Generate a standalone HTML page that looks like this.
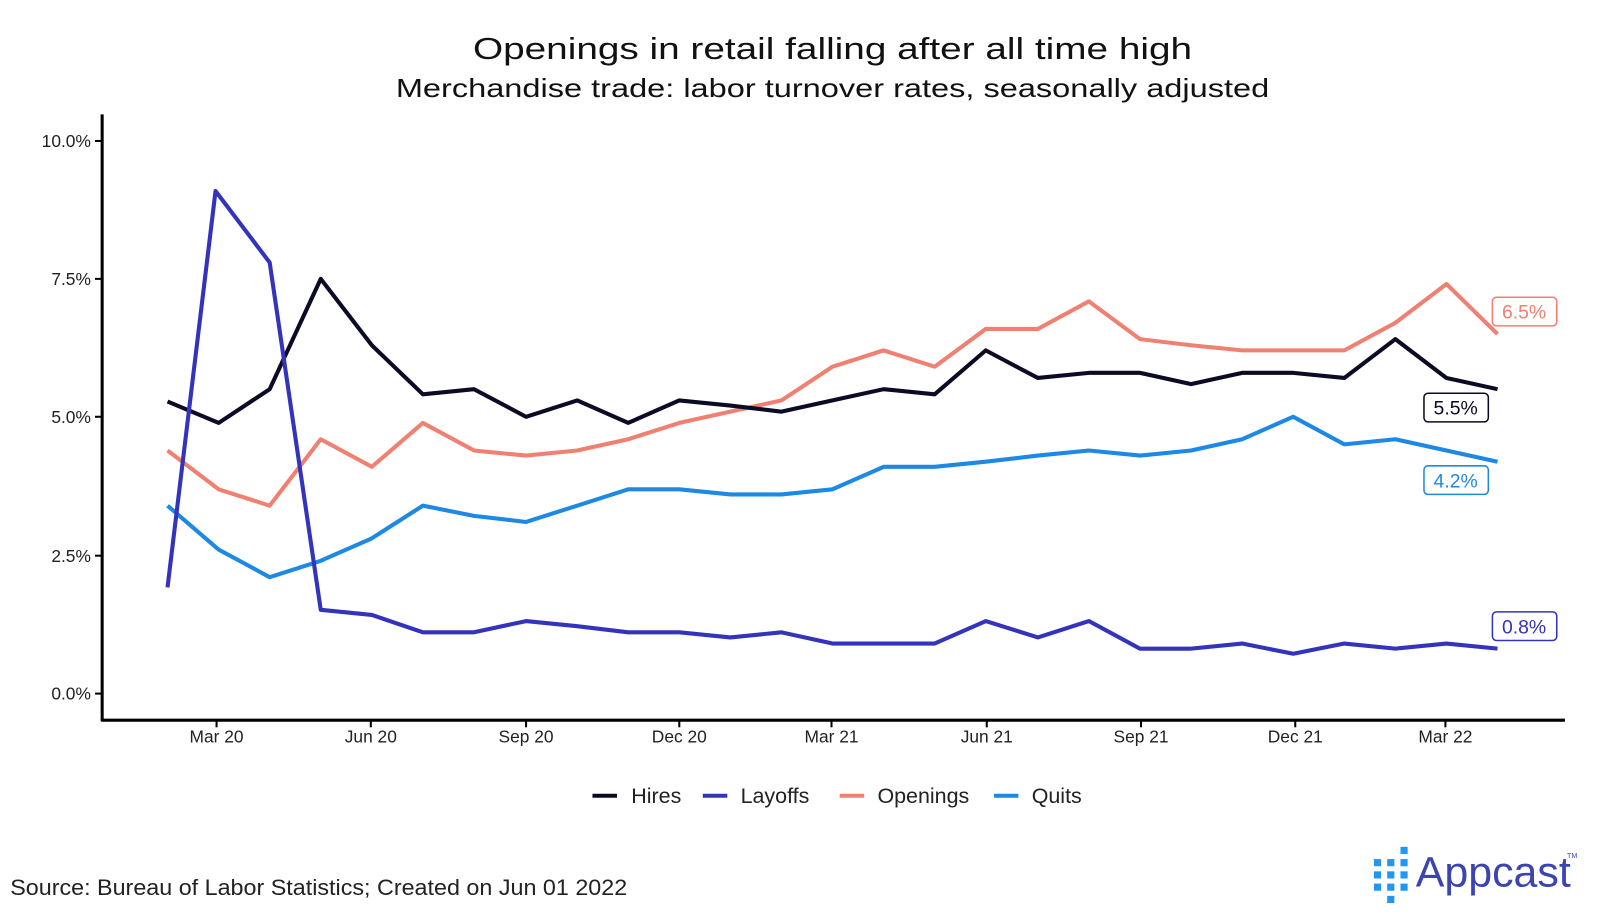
<!DOCTYPE html>
<html><head><meta charset="utf-8"><style>body{margin:0;background:#fff;overflow:hidden}</style></head><body>
<svg width="1600" height="909" viewBox="0 0 1600 909" xmlns="http://www.w3.org/2000/svg" font-family="Liberation Sans, sans-serif">
<rect width="1600" height="909" fill="#fff"/>
<g transform="scale(1.0215)">
<text x="815" y="58" font-size="30" text-anchor="middle" fill="#111" textLength="704" lengthAdjust="spacingAndGlyphs">Openings in retail falling after all time high</text>
<text x="815" y="95" font-size="25" text-anchor="middle" fill="#111" textLength="855" lengthAdjust="spacingAndGlyphs">Merchandise trade: labor turnover rates, seasonally adjusted</text>
<g stroke="#000" stroke-width="3" fill="none">
<line x1="100" y1="112" x2="100" y2="706"/><line x1="99" y1="705" x2="1532" y2="705"/>
</g>
<g stroke="#000" stroke-width="2">
<line x1="93" y1="138" x2="100" y2="138"/><line x1="93" y1="273" x2="100" y2="273"/><line x1="93" y1="408" x2="100" y2="408"/><line x1="93" y1="544" x2="100" y2="544"/><line x1="93" y1="679" x2="100" y2="679"/>
<line x1="212" y1="705" x2="212" y2="712"/><line x1="363" y1="705" x2="363" y2="712"/><line x1="515" y1="705" x2="515" y2="712"/><line x1="665" y1="705" x2="665" y2="712"/><line x1="814" y1="705" x2="814" y2="712"/><line x1="966" y1="705" x2="966" y2="712"/><line x1="1117" y1="705" x2="1117" y2="712"/><line x1="1268" y1="705" x2="1268" y2="712"/><line x1="1415" y1="705" x2="1415" y2="712"/>
</g>
<g font-size="17" fill="#222" text-anchor="end">
<text x="89" y="144">10.0%</text><text x="89" y="279">7.5%</text><text x="89" y="414">5.0%</text><text x="89" y="550">2.5%</text><text x="89" y="685">0.0%</text>
</g>
<g font-size="17" fill="#222" text-anchor="middle">
<text x="212" y="727">Mar 20</text><text x="363" y="727">Jun 20</text><text x="515" y="727">Sep 20</text><text x="665" y="727">Dec 20</text><text x="814" y="727">Mar 21</text><text x="966" y="727">Jun 21</text><text x="1117" y="727">Sep 21</text><text x="1268" y="727">Dec 21</text><text x="1415" y="727">Mar 22</text>
</g>
<g fill="none" stroke-width="4" stroke-linejoin="round">
<polyline stroke="#f08072" points="164,441 214,479 264,495 314,430 364,457 414,414 464,441 515,446 565,441 615,430 665,414 715,403 765,392 815,359 865,343 915,359 965,322 1016,322 1066,295 1116,332 1166,338 1216,343 1266,343 1316,343 1366,316 1416,278 1466,327"/>
<polyline stroke="#1e88e5" points="164,495 214,538 264,565 314,549 364,527 414,495 464,505 515,511 565,495 615,479 665,479 715,484 765,484 815,479 865,457 915,457 965,452 1016,446 1066,441 1116,446 1166,441 1216,430 1266,408 1316,435 1366,430 1416,441 1466,452"/>
<polyline stroke="#0b0b25" points="164,393 214,414 264,381 314,273 364,338 414,386 464,381 515,408 565,392 615,414 665,392 715,397 765,403 815,392 865,381 915,386 965,343 1016,370 1066,365 1116,365 1166,376 1216,365 1266,365 1316,370 1366,332 1416,370 1466,381"/>
<polyline stroke="#3333bb" points="164,575 211,187 264,257 314,597 364,602 414,619 464,619 515,608 565,613 615,619 665,619 715,624 765,619 815,630 865,630 915,630 965,608 1016,624 1066,608 1116,635 1166,635 1216,630 1266,640 1316,630 1366,635 1416,630 1466,635"/>
</g>
<g font-size="19" text-anchor="middle">
<rect x="1461" y="291" width="63" height="28" rx="4" fill="#fff" stroke="#f08072" stroke-width="1.5"/><text x="1492" y="312" fill="#f08072">6.5%</text>
<rect x="1394" y="385" width="63" height="28" rx="4" fill="#fff" stroke="#0b0b25" stroke-width="1.5"/><text x="1425" y="406" fill="#0b0b25">5.5%</text>
<rect x="1394" y="456" width="63" height="28" rx="4" fill="#fff" stroke="#1e88e5" stroke-width="1.5"/><text x="1425" y="477" fill="#1e88e5">4.2%</text>
<rect x="1461" y="599" width="63" height="28" rx="4" fill="#fff" stroke="#3333bb" stroke-width="1.5"/><text x="1492" y="620" fill="#3333bb">0.8%</text>
</g>
<g stroke-width="4">
<line x1="580" y1="779" x2="604" y2="779" stroke="#0b0b25"/><line x1="688" y1="779" x2="712" y2="779" stroke="#3333bb"/><line x1="822" y1="779" x2="846" y2="779" stroke="#f08072"/><line x1="973" y1="779" x2="997" y2="779" stroke="#1e88e5"/>
</g>
<g font-size="21" fill="#222">
<text x="618" y="786">Hires</text><text x="725" y="786">Layoffs</text><text x="859" y="786">Openings</text><text x="1010" y="786">Quits</text>
</g>
<text x="10" y="876" font-size="22" fill="#222" textLength="604" lengthAdjust="spacingAndGlyphs">Source: Bureau of Labor Statistics; Created on Jun 01 2022</text>
<g fill="#2196f3">
<rect x="1371" y="853" width="7" height="7"/><rect x="1345" y="853" width="7" height="7"/><rect x="1358" y="853" width="7" height="7"/>
<rect x="1345" y="841" width="7" height="7"/><rect x="1358" y="841" width="7" height="7"/><rect x="1371" y="841" width="7" height="7"/>
<rect x="1371" y="865" width="7" height="7"/><rect x="1345" y="865" width="7" height="7"/><rect x="1358" y="865" width="7" height="7"/>
<rect x="1358" y="877" width="7" height="7"/><rect x="1371" y="829" width="7" height="7"/>
</g>
<text x="1386" y="868" font-size="42" fill="#3b44b0">Appcast</text>
<text x="1534" y="840" font-size="7" fill="#3b44b0">TM</text>
</g>
</svg>
</body></html>
